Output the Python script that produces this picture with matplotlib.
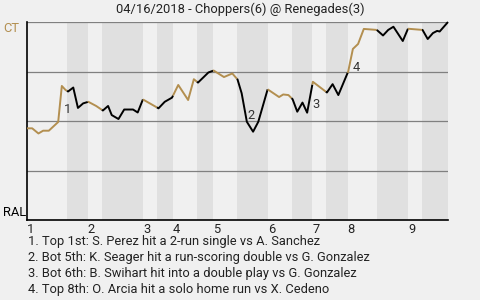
import numpy as np
import matplotlib
matplotlib.use("Agg")
import matplotlib.pyplot as plt

plt.rcParams["font.family"] = ["Roboto", "DejaVu Sans"]

# win probability for the visiting team (CT), one value per play
play_x = [0.0, 1.0, 2.2, 3.1, 4.2, 6.0, 6.7, 7.4, 7.9, 8.9, 9.8, 10.8, 11.8, 13.3,
          14.6, 15.6, 16.3, 17.6, 18.7, 20.4, 21.3, 22.3, 25.3, 26.5, 27.9, 29.1,
          31.0, 32.1, 32.9, 34.9, 35.9, 37.9, 39.5, 40.5, 41.3, 42.3, 43.5, 44.5,
          46.3, 48.5, 49.3, 50.3, 51.1, 52.0, 53.0, 53.9, 55.0, 57.7, 58.8, 59.9,
          61.8, 62.7, 63.7, 64.8, 67.3, 68.5, 69.5, 70.5, 72.3, 73.3, 76.1, 77.1,
          78.1, 78.9, 79.4, 81.0]
win_prob = [46.3, 46.3, 43.7, 45.1, 45.1, 49.5, 67.7, 65.7, 64.9, 66.9, 56.6, 58.9,
            59.7, 57.6, 55.3, 57.6, 53.0, 51.0, 55.8, 55.8, 54.3, 60.9, 56.4, 59.7,
            61.8, 68.2, 60.6, 71.1, 69.4, 74.5, 75.5, 72.2, 74.0, 71.0, 64.0, 49.6,
            44.6, 49.6, 66.0, 62.1, 63.4, 63.1, 61.0, 54.7, 59.3, 54.2, 69.8, 64.4,
            68.6, 63.1, 75.0, 86.4, 88.9, 96.5, 96.0, 93.2, 96.0, 97.6, 90.4, 96.6,
            96.0, 91.4, 94.4, 95.5, 95.2, 100.0]

# half-inning boundaries (top 1st ... end of bottom 9th)
half_bounds = [0.0, 7.7, 11.7, 14.4, 22.3, 25.0, 28.1, 32.7, 35.8, 40.4, 46.3,
               50.9, 54.9, 57.5, 61.7, 67.3, 73.3, 76.0, 81.0]
innings = ["1", "2", "3", "4", "5", "6", "7", "8", "9"]

# key plays: label, x, y
key_labels = ["1", "2", "3", "4"]
key_x = [7.0, 42.4, 54.9, 62.6]
key_y = [55.6, 52.8, 58.2, 76.9]
notes = [
    "1. Top 1st: S. Perez hit a 2-run single vs A. Sanchez",
    "2. Bot 5th: K. Seager hit a run-scoring double vs G. Gonzalez",
    "3. Bot 6th: B. Swihart hit into a double play vs G. Gonzalez",
    "4. Top 8th: O. Arcia hit a solo home run vs X. Cedeno",
]

gold = "#b38f50"
bg = "#f0f0f0"
band = "#e0e0e0"
fs = 9.3

fig = plt.figure(figsize=(4.8, 3.0), dpi=100, facecolor=bg)
ax = fig.add_axes([27 / 480, 80 / 300, 421 / 480, 198 / 300])
ax.set_facecolor(bg)
ax.set_xlim(half_bounds[0], half_bounds[-1])
ax.set_ylim(0, 100)

for i in range(len(half_bounds) - 1):
    b0, b1 = half_bounds[i], half_bounds[i + 1]
    if i % 2 == 1:
        ax.axvspan(b0, b1, color=band, lw=0, zorder=0)

for v in [25, 50, 75, 100]:
    ax.axhline(v, color="#808080", lw=0.9, zorder=1)

# line coloured by which team is batting
for i in range(len(half_bounds) - 1):
    b0, b1 = half_bounds[i], half_bounds[i + 1]
    xs = [b0] + [x for x in play_x if b0 < x < b1] + [b1]
    ys = np.interp(xs, play_x, win_prob)
    ax.plot(xs, ys, color=gold if i % 2 == 0 else "black", lw=1.4,
            zorder=3, solid_capstyle="butt", clip_on=False)

for lab, x, y in zip(key_labels, key_x, key_y):
    ax.text(x, y, lab, fontsize=fs, color="#333333", ha="left", va="center", zorder=4)

for s in ["top", "right"]:
    ax.spines[s].set_visible(False)
ax.spines["left"].set_color("black")
ax.spines["bottom"].set_color("black")
ax.spines["left"].set_linewidth(1.2)
ax.spines["bottom"].set_linewidth(1.2)

ax.set_yticks([])
ax.set_xticks(half_bounds[0:-1:2], labels=innings)
ax.tick_params(axis="x", length=0, pad=2, labelsize=fs, labelcolor="#222222")
for lbl in ax.get_xticklabels():
    lbl.set_ha("left")

fig.text(240 / 480, 1 - 9.5 / 300, "04/16/2018 - Choppers(6) @ Renegades(3)",
         ha="center", va="center", fontsize=fs, color="#222222")
fig.text(3 / 480, 1 - 29 / 300, "CT", ha="left", va="center", fontsize=fs, color=gold)
fig.text(3 / 480, 1 - 213 / 300, "RAL", ha="left", va="center", fontsize=fs, color="black")

for k, line in enumerate(notes):
    fig.text(28 / 480, 1 - (241.7 + 16 * k) / 300, line, ha="left", va="center",
             fontsize=fs, color="#222222")

fig.savefig("out.png", dpi=100, facecolor=bg)
